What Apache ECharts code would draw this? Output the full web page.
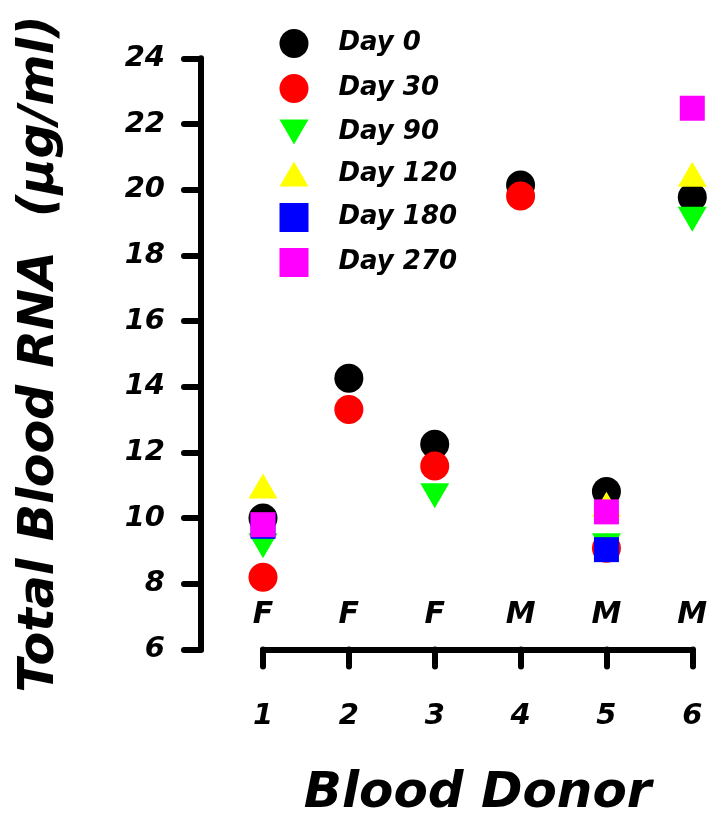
<!DOCTYPE html>
<html>
<head>
<meta charset="utf-8">
<script src="https://cdn.jsdelivr.net/npm/echarts@6/dist/echarts.min.js"></script>
<style>
html,body{margin:0;padding:0;background:#fff;}
#chart{width:709px;height:820px;}
</style>
</head>
<body>
<div id="chart"></div>
<script>
var donors = ['1', '2', '3', '4', '5', '6'];
var sexes = ['F', 'F', 'F', 'M', 'M', 'M'];
var sexLabelLevel = 7.05;
var yTicks = {min: 6, max: 24, interval: 2};

var day0   = [10.0, 14.26, 12.25, 20.14, 10.81, 19.77];
var day30  = [8.2, 13.31, 11.59, 19.81, 9.08, null];
var day90  = [9.16, null, 10.68, null, 9.16, 19.1];
var day120 = [10.98, null, null, null, 10.42, 20.47];
var day180 = [9.75, null, null, null, 9.04, null];
var day270 = [9.8, null, null, null, 10.19, 22.48];

var FONT = 'DejaVu Sans';
var DOWN_TRI = 'path://M0,0L29,0L14.5,25Z';
var UP_TRI = 'path://M14.5,0L29,25L0,25Z';

function mk(name, data, color, symbol, size) {
  return {
    name: name, type: 'scatter', data: data, clip: false,
    symbol: symbol, symbolSize: size,
    itemStyle: {color: color, opacity: 1},
    emphasis: {disabled: true}
  };
}

var chart = echarts.init(document.getElementById('chart'), null, {renderer: 'canvas'});
var lineW = 6;
chart.setOption({
  animation: false,
  backgroundColor: '#fff',
  grid: {left: 263, right: 16.7, top: 58.3, bottom: 170.5, containLabel: false, outerBoundsMode: 'none'},
  legend: {
    orient: 'vertical', left: 274.5, top: 24,
    itemWidth: 29, itemHeight: 29, itemGap: 16,
    data: ['Day 0', 'Day 30', 'Day 90', 'Day 120', 'Day 180', 'Day 270'],
    textStyle: {fontFamily: FONT, fontWeight: 'bold', fontStyle: 'italic', fontSize: 26, color: '#000', padding: [0, 0, 0, 25]}
  },
  xAxis: {
    type: 'category', data: donors, boundaryGap: false,
    name: 'Blood Donor', nameLocation: 'middle', nameGap: 120,
    nameTextStyle: {fontFamily: FONT, fontWeight: 'bold', fontStyle: 'italic', fontSize: 50, color: '#000'},
    axisLine: {show: true, lineStyle: {color: '#000', width: lineW, cap: 'round'}},
    axisTick: {show: true, length: 17, lineStyle: {color: '#000', width: lineW, cap: 'round'}},
    axisLabel: {margin: 52, fontFamily: FONT, fontWeight: 'bold', fontStyle: 'italic', fontSize: 29, color: '#000'},
    splitLine: {show: false}
  },
  yAxis: {
    type: 'value', min: yTicks.min, max: yTicks.max, interval: yTicks.interval,
    offset: 62,
    name: 'Total Blood RNA  (µg/ml)', nameLocation: 'middle', nameGap: 136,
    nameTextStyle: {fontFamily: FONT, fontWeight: 'bold', fontStyle: 'italic', fontSize: 49, color: '#000'},
    axisLine: {show: true, lineStyle: {color: '#000', width: lineW, cap: 'round'}},
    axisTick: {show: true, length: 17, lineStyle: {color: '#000', width: lineW, cap: 'round'}},
    axisLabel: {margin: 36, fontFamily: FONT, fontWeight: 'bold', fontStyle: 'italic', fontSize: 29, color: '#000'},
    splitLine: {show: false}
  },
  series: [
    mk('Day 0', day0, '#000000', 'circle', 29),
    mk('Day 30', day30, '#ff0000', 'circle', 29),
    mk('Day 90', day90, '#00ff00', DOWN_TRI, [29, 25]),
    mk('Day 120', day120, '#ffff00', UP_TRI, [29, 25]),
    mk('Day 180', day180, '#0000ff', 'rect', 25),
    mk('Day 270', day270, '#ff00ff', 'rect', 25),
    {
      name: 'sex', type: 'scatter', clip: false, symbolSize: 0,
      itemStyle: {opacity: 1, color: '#000'},
      data: sexes.map(function (s, i) { return {value: [donors[i], sexLabelLevel], sex: s}; }),
      label: {show: true, position: 'inside', formatter: function (p) { return p.data.sex; },
        fontFamily: FONT, fontWeight: 'bold', fontStyle: 'italic', fontSize: 30, color: '#000', opacity: 1},
      emphasis: {disabled: true}, tooltip: {show: false}
    }
  ]
});
</script>
</body>
</html>
